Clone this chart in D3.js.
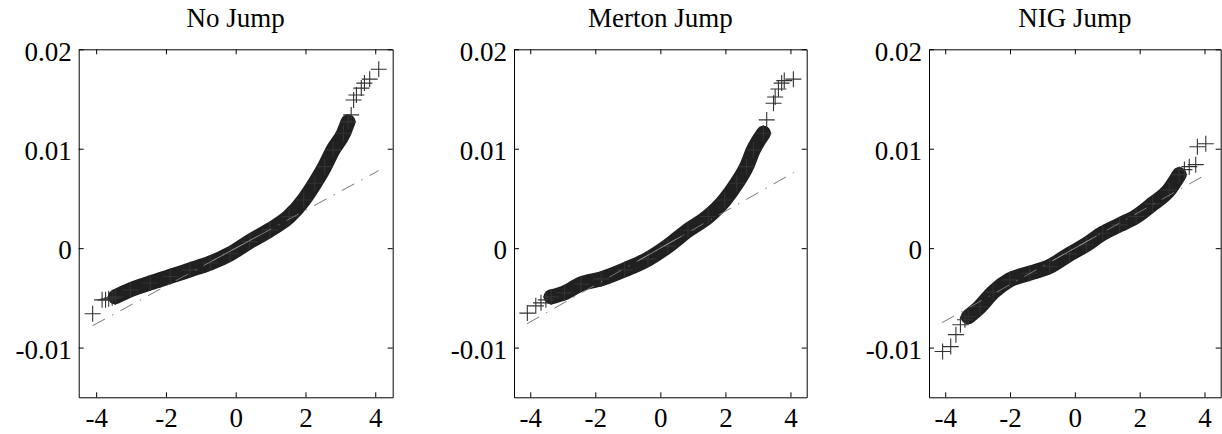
<!DOCTYPE html>
<html>
<head>
<meta charset="utf-8">
<script src="https://cdn.jsdelivr.net/npm/d3@7"></script>
<style>
  body { margin: 0; background: #fff; }
  svg text { font-family: "Liberation Serif", "Times New Roman", serif; fill: #000; }
</style>
</head>
<body>
<div id="chart"></div>
<script>
// Q-Q plots of model residuals against standard normal quantiles

const titles = ["No Jump", "Merton Jump", "NIG Jump"];
const xTicks = [-4, -2, 0, 2, 4];
const xTickLabels = ["-4", "-2", "0", "2", "4"];
const yTicks = [-0.01, 0, 0.01, 0.02];
const yTickLabels = ["-0.01", "0", "0.01", "0.02"];

// dense body of each Q-Q cloud (theoretical quantile, sample quantile)
const bodyX1 = [-3.45, -3.02, -2.45, -1.88, -1.31, -0.73, -0.16, 0.40, 0.98, 1.53, 1.95, 2.27, 2.55, 2.79, 3.09, 3.22];
const bodyY1 = [-0.0049, -0.0042, -0.0035, -0.00285, -0.00218, -0.0015, -0.00057, 0.00066, 0.00184, 0.00318, 0.00485, 0.00653, 0.0082, 0.00988, 0.01156, 0.0127];
const bodyX2 = [-3.36, -2.95, -2.44, -1.82, -1.10, -0.38, 0.23, 0.85, 1.47, 1.98, 2.35, 2.65, 2.86, 3.17];
const bodyY2 = [-0.0049, -0.0045, -0.0036, -0.00309, -0.00218, -0.0011, 0.0002, 0.0018, 0.00318, 0.00485, 0.00653, 0.0082, 0.00988, 0.01156];
const bodyX3 = [-3.29, -2.93, -2.52, -2.01, -1.39, -0.78, -0.16, 0.35, 0.86, 1.38, 1.89, 2.40, 2.91, 3.22];
const bodyY3 = [-0.0069, -0.0059, -0.00442, -0.00319, -0.00252, -0.00185, -0.0006, 0.00035, 0.0015, 0.00234, 0.00318, 0.00445, 0.00586, 0.0074];

// isolated tail points
const tailX1 = [-4.10, -3.83, -3.73, -3.64, -3.54, 3.31, 3.38, 3.46, 3.60, 3.69, 3.84, 4.10];
const tailY1 = [-0.0066, -0.0052, -0.0052, -0.0051, -0.0050, 0.0134, 0.0149, 0.0154, 0.0161, 0.0166, 0.0170, 0.0180];
const tailX2 = [-4.09, -3.83, -3.67, -3.52, 3.27, 3.48, 3.53, 3.63, 3.73, 3.81, 4.09];
const tailY2 = [-0.00653, -0.0058, -0.0055, -0.0052, 0.0129, 0.01457, 0.0152, 0.016, 0.0166, 0.01685, 0.0170];
const tailX3 = [-4.08, -3.83, -3.67, -3.53, -3.39, 3.38, 3.53, 3.73, 3.78, 4.04];
const tailY3 = [-0.0104, -0.0099, -0.0087, -0.0077, -0.0072, 0.0079, 0.0082, 0.0084, 0.0102, 0.0105];

// fitted normal reference line ends, and the quartile segment
const refX = [-4.1, 4.1];
const refY1 = [-0.0078, 0.0078];
const refY2 = [-0.0076, 0.0076];
const refY3 = [-0.0075, 0.0075];
const quartX = [-0.674, 0.674];

const panels = [
  { title: titles[0], bx: bodyX1, by: bodyY1, tx: tailX1, ty: tailY1, ry: refY1, left: 78.7, right: 392.7 },
  { title: titles[1], bx: bodyX2, by: bodyY2, tx: tailX2, ty: tailY2, ry: refY2, left: 514, right: 806.7 },
  { title: titles[2], bx: bodyX3, by: bodyY3, tx: tailX3, ty: tailY3, ry: refY3, left: 929, right: 1220.7 }
];

const width = 1222, height = 434;
const plotTop = 49.3, plotBottom = 397.3;
const fontFamily = "'Liberation Serif', 'Times New Roman', serif";

const svg = d3.select("#chart").append("svg")
    .attr("width", width)
    .attr("height", height);

const y = d3.scaleLinear().domain([-0.015, 0.02]).range([plotBottom, plotTop]);

panels.forEach(p => {
  const x = d3.scaleLinear().domain([-4.5, 4.5]).range([p.left, p.right]);
  const g = svg.append("g");

  // title
  g.append("text")
    .attr("x", (p.left + p.right) / 2)
    .attr("y", 27)
    .attr("text-anchor", "middle")
    .style("font-size", "27px")
    .text(p.title);

  // dense cloud as a thick band
  const body = d3.zip(p.bx, p.by);
  g.append("path")
    .datum(body)
    .attr("fill", "none")
    .attr("stroke", "#202020")
    .attr("stroke-width", 15)
    .attr("stroke-linecap", "round")
    .attr("stroke-linejoin", "round")
    .attr("d", d3.line().x(d => x(d[0])).y(d => y(d[1])).curve(d3.curveMonotoneX));

  // + markers
  const pts = body.concat(d3.zip(p.tx, p.ty));
  const s = 8;
  g.append("g").selectAll("path")
    .data(pts)
    .join("path")
    .attr("fill", "none")
    .attr("stroke", "#333")
    .attr("stroke-width", 1.1)
    .attr("d", d => {
      const cx = x(d[0]), cy = y(d[1]);
      return `M${cx - s},${cy}H${cx + s}M${cx},${cy - s}V${cy + s}`;
    });

  // reference lines
  const slope = (p.ry[1] - p.ry[0]) / (refX[1] - refX[0]);
  const yAt = v => p.ry[0] + slope * (v - refX[0]);
  g.append("line")
    .attr("x1", x(refX[0])).attr("y1", y(p.ry[0]))
    .attr("x2", x(refX[1])).attr("y2", y(p.ry[1]))
    .attr("stroke", "#777")
    .attr("stroke-width", 1)
    .attr("stroke-dasharray", "14,8,1.5,8");
  g.append("line")
    .attr("x1", x(quartX[0])).attr("y1", y(yAt(quartX[0])))
    .attr("x2", x(quartX[1])).attr("y2", y(yAt(quartX[1])))
    .attr("stroke", "#888")
    .attr("stroke-width", 1);

  // axes with inward ticks, box all round
  const ax = (axis, tr) => {
    const a = g.append("g").attr("transform", tr).call(axis);
    a.select(".domain").attr("stroke", "#000");
    a.selectAll(".tick line").attr("stroke", "#000");
    a.selectAll("text").style("font-size", "27px").attr("fill", "#000")
      .style("font-family", fontFamily);
    return a;
  };
  ax(d3.axisBottom(x).tickValues(xTicks).tickSize(-5).tickSizeOuter(0).tickPadding(11)
      .tickFormat((d, i) => xTickLabels[i]), `translate(0,${plotBottom})`);
  ax(d3.axisTop(x).tickValues(xTicks).tickSize(-5).tickSizeOuter(0).tickFormat(""), `translate(0,${plotTop})`);
  const yl = ax(d3.axisLeft(y).tickValues(yTicks).tickSize(-5).tickSizeOuter(0).tickPadding(7)
      .tickFormat((d, i) => yTickLabels[i]), `translate(${p.left},0)`);
  yl.selectAll("text").attr("dy", "0.4em");
  ax(d3.axisRight(y).tickValues(yTicks).tickSize(-5).tickSizeOuter(0).tickFormat(""), `translate(${p.right},0)`);
});
</script>
</body>
</html>
